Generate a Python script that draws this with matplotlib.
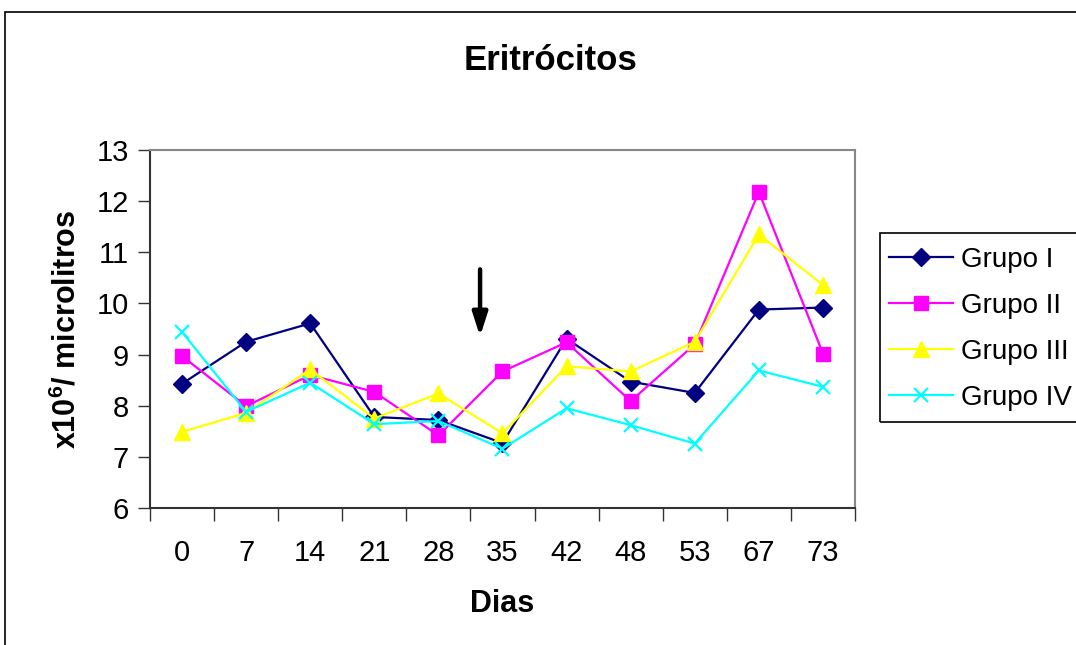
import matplotlib
matplotlib.use('Agg')
import matplotlib.pyplot as plt
from matplotlib.patches import Rectangle

plt.rcParams['font.family'] = ['Liberation Sans', 'DejaVu Sans']
plt.rcParams['mathtext.fontset'] = 'custom'
plt.rcParams['mathtext.bf'] = 'Liberation Sans:bold'
plt.rcParams['mathtext.rm'] = 'Liberation Sans'

dias = ['0', '7', '14', '21', '28', '35', '42', '48', '53', '67', '73']
grupo_1 = [8.43, 9.25, 9.61, 7.78, 7.72, 7.27, 9.31, 8.47, 8.25, 9.88, 9.92]
grupo_2 = [8.97, 7.99, 8.60, 8.27, 7.42, 8.67, 9.24, 8.09, 9.20, 12.18, 9.02]
grupo_3 = [7.49, 7.86, 8.71, 7.75, 8.24, 7.46, 8.77, 8.67, 9.25, 11.35, 10.36]
grupo_4 = [9.44, 7.88, 8.45, 7.64, 7.70, 7.16, 7.95, 7.62, 7.26, 8.69, 8.37]

fig = plt.figure(figsize=(10.76, 6.45), dpi=100)
ax = fig.add_axes([150/1076, 1-508/645, 705/1076, 358/645])

x = range(len(dias))
ax.plot(x, grupo_1, color='#000080', lw=1.6, marker='D', ms=9.5, label='Grupo I')
ax.plot(x, grupo_2, color='#FF00FF', lw=1.6, marker='s', ms=9.5, label='Grupo II')
ax.plot(x, grupo_3, color='#FFFF00', lw=1.6, marker='^', ms=11.5, label='Grupo III')
ax.plot(x, grupo_4, color='#00FFFF', lw=1.6, marker='x', ms=10.5, mew=1.6, label='Grupo IV')

# flecha
ax.annotate('', xy=(4.65, 9.30), xytext=(4.65, 10.72),
            arrowprops=dict(arrowstyle='-|>,head_width=0.45,head_length=1.4',
                            color='black', lw=3.2))

ax.set_xlim(-0.5, 10.5)
ax.set_ylim(6, 13)
ax.set_yticks(range(6, 14))
ax.set_xticks(x)
ax.set_xticklabels(dias)
ax.set_xticks([i - 0.5 for i in range(len(dias) + 1)], minor=True)
ax.tick_params(axis='x', which='major', length=0, pad=22, labelsize=21)
ax.tick_params(axis='x', which='minor', length=9, width=1, color='#333333', direction='out')
ax.tick_params(axis='y', length=9, width=1, color='#333333', pad=6, labelsize=21)

for s in ['left', 'bottom']:
    ax.spines[s].set_color('#333333')
    ax.spines[s].set_linewidth(1.5)
for s in ['top', 'right']:
    ax.spines[s].set_color('#888888')
    ax.spines[s].set_linewidth(1.5)

ax.set_xlabel('Dias', fontsize=22, fontweight='bold', labelpad=16)
ax.set_ylabel(r'x10$^{\mathbf{6}}$/ microlitros', fontsize=22, fontweight='bold', labelpad=10)
fig.text(550/1076, 1-60/645, 'Eritrócitos', ha='center', va='center',
         fontsize=25, fontweight='bold')

leg = fig.legend(loc='upper left', bbox_to_anchor=(886/1076, 1-244/645),
                 frameon=False, fontsize=20, handlelength=2.3, labelspacing=0.72,
                 handletextpad=0.3, borderpad=0.1, borderaxespad=0)

fig.patches.append(Rectangle((880/1076, 1-422/645), 300/1076, 189/645,
                             transform=fig.transFigure, fill=False,
                             edgecolor='black', lw=1.2, clip_on=False))
fig.patches.append(Rectangle((5/1076, -0.1), 1.2, 1.1 - 12/645,
                             transform=fig.transFigure, fill=False,
                             edgecolor='black', lw=1.2, clip_on=False))

fig.savefig('out.png', dpi=100)
